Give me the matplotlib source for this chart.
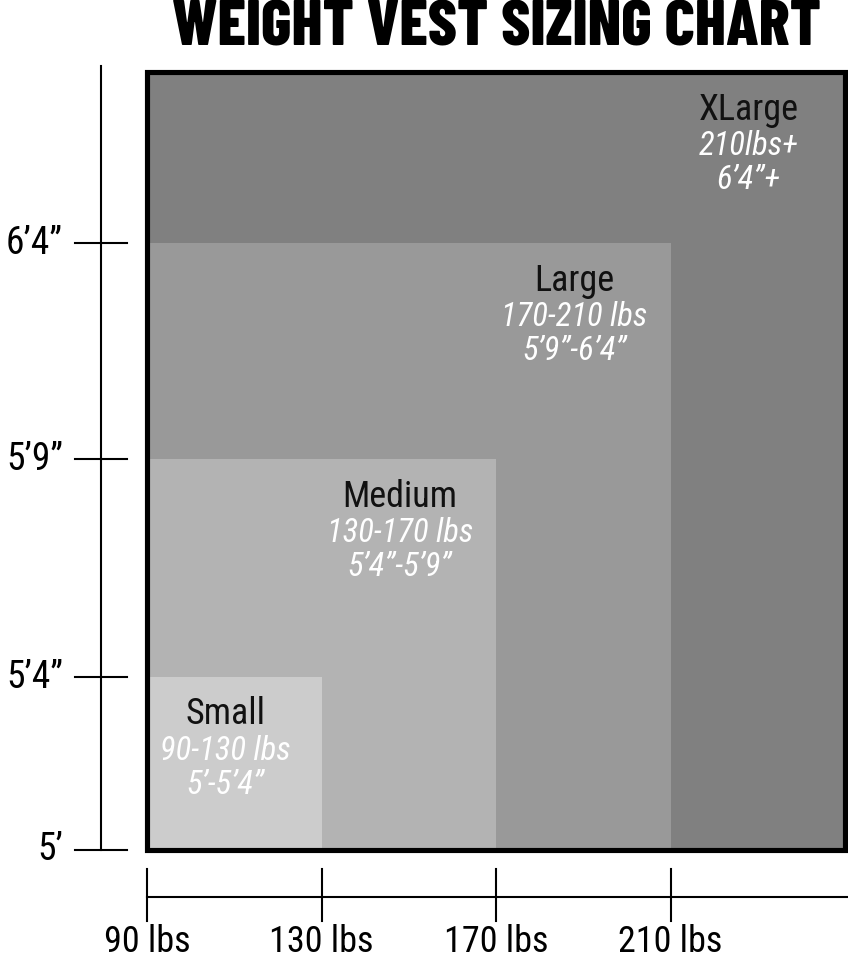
import numpy as np
import matplotlib
matplotlib.use("Agg")
import matplotlib.pyplot as plt
import matplotlib.transforms as mtransforms
from matplotlib.patches import Rectangle

# ---- data ----
sizes = ["Small", "Medium", "Large", "XLarge"]
weight_ranges = ["90-130 lbs", "130-170 lbs", "170-210 lbs", "210lbs+"]
height_ranges = ["5\u2019-5\u20194\u201d", "5\u20194\u201d-5\u20199\u201d", "5\u20199\u201d-6\u20194\u201d", "6\u20194\u201d+"]
weight_lo = [90, 130, 170, 210]
weight_hi = [130, 170, 210, 250]
height_lo = [60, 64, 69, 76]      # inches
height_hi = [64, 69, 76, 80]
fill_colors = ["#cccccc", "#b3b3b3", "#999999", "#808080"]
x_ticks = [90, 130, 170, 210]
x_tick_labels = ["90 lbs", "130 lbs", "170 lbs", "210 lbs"]
y_ticks = [60, 64, 69, 76]
y_tick_labels = ["5\u2019", "5\u20194\u201d", "5\u20199\u201d", "6\u20194\u201d"]
title = "WEIGHT VEST SIZING CHART"

FONT = ["Roboto Condensed", "DejaVu Sans"]
TITLE_FONT = ["Barlow Condensed", "Roboto Condensed", "DejaVu Sans"]
plt.rcParams["font.family"] = FONT

W, H = 848, 960
fig = plt.figure(figsize=(W / 100, H / 100), dpi=100)
ax = fig.add_axes([0, 0, 1, 1])

# non-uniform height scale (chart uses equal-ish bands per size)
_in = np.array([0, 60, 64, 69, 76, 80, 200], dtype=float)
_pos = np.array([110 - 60 * 43.25, 110, 283, 501, 717, 888, 888 + 120 * 42.75])
def fwd(v):
    return np.interp(v, _in, _pos)
def inv(p):
    return np.interp(p, _pos, _in)
ax.set_yscale("function", functions=(fwd, inv))
ax.set_ylim(inv(0), inv(H))
ppl = 698 / 160.0
ax.set_xlim(90 - 147 / ppl, 250 + 3 / ppl)
ax.axis("off")

# nested rectangles (largest first)
for i in reversed(range(len(sizes))):
    ax.add_patch(Rectangle((weight_lo[0], height_lo[0]),
                           weight_hi[i] - weight_lo[0], height_hi[i] - height_lo[0],
                           facecolor=fill_colors[i], edgecolor="none", zorder=1))
ax.add_patch(Rectangle((weight_lo[0], height_lo[0]),
                       weight_hi[-1] - weight_lo[0], height_hi[-1] - height_lo[0],
                       facecolor="none", edgecolor="black", linewidth=3.7, zorder=3))

# labels
for i in range(len(sizes)):
    xc = (weight_lo[i] + weight_hi[i]) / 2
    top = height_hi[i]
    ax.annotate(sizes[i], (xc, top), xytext=(-6.5, -27), textcoords="offset points",
                ha="center", va="center", fontsize=26, fontweight="normal",
                color="#111111", zorder=4)
    ax.annotate(weight_ranges[i], (xc, top), xytext=(-6.5, -53), textcoords="offset points",
                ha="center", va="center", fontsize=23.5, style="italic", color="white", zorder=4)
    ax.annotate(height_ranges[i], (xc, top), xytext=(-6.5, -77.5), textcoords="offset points",
                ha="center", va="center", fontsize=23.5, style="italic", color="white", zorder=4)

lw = 1.5
# vertical (height) axis
bl_y = mtransforms.blended_transform_factory(ax.transAxes, ax.transData)
ax.plot([101 / W, 101 / W], [height_lo[0], 80.15], color="black", lw=lw, transform=bl_y, clip_on=False)
for yt, lab in zip(y_ticks, y_tick_labels):
    ax.plot([75 / W, 127 / W], [yt, yt], color="black", lw=lw, transform=bl_y, clip_on=False)
    ax.text(63 / W, yt, lab, transform=bl_y, ha="right", va="center", fontsize=27,
            fontweight="normal", color="black")

# horizontal (weight) axis
bl_x = mtransforms.blended_transform_factory(ax.transData, ax.transAxes)
xr = ax.get_xlim()[1]
ax.plot([x_ticks[0], xr], [(H - 897) / H] * 2, color="black", lw=lw, transform=bl_x, clip_on=False)
for xt, lab in zip(x_ticks, x_tick_labels):
    ax.plot([xt, xt], [(H - 869) / H, (H - 921) / H], color="black", lw=lw, transform=bl_x, clip_on=False)
    ax.text(xt, (H - 942) / H, lab, transform=bl_x, ha="center", va="center", fontsize=26,
            fontweight="normal", color="black")

# title, fitted to the reference's width
t = fig.text(496 / W, 1 - 46 / H, title, ha="center", va="baseline", fontsize=36,
             family=TITLE_FONT, fontweight=800, color="black")
fig.canvas.draw()
wpx = t.get_window_extent().width
t.set_fontsize(36 * 648 / wpx)

fig.savefig("out.png", dpi=100)
